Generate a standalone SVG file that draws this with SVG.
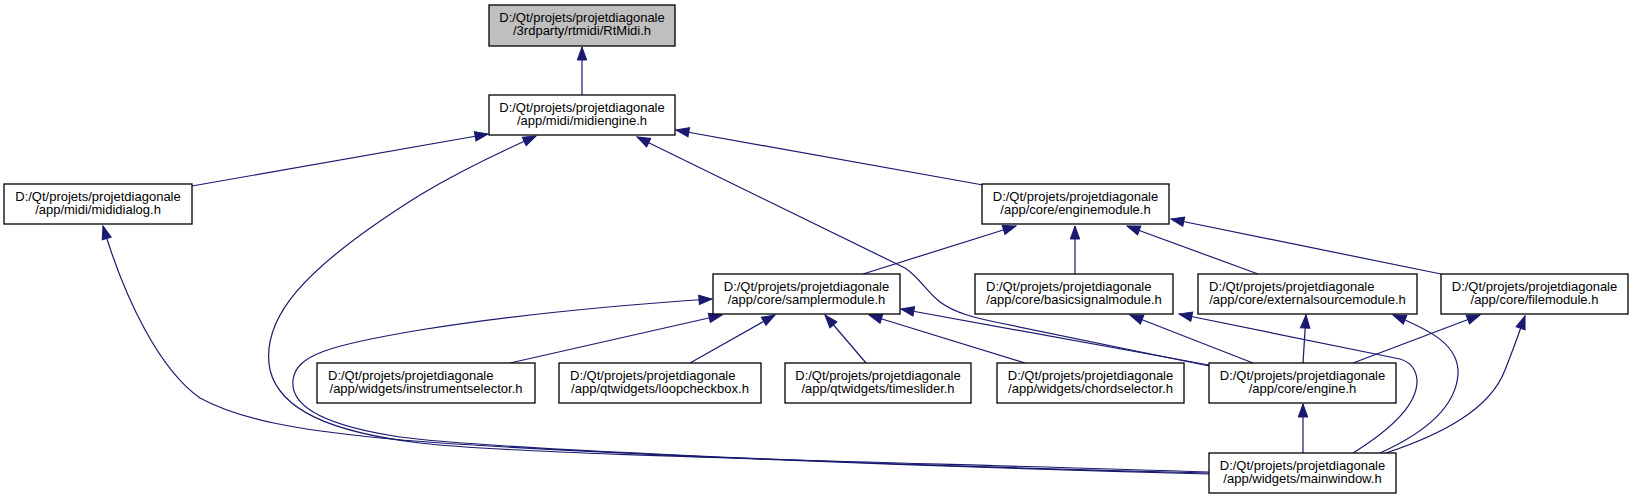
<svg xmlns="http://www.w3.org/2000/svg" width="1633" height="499" viewBox="0 0 1633 499">
<style>
.box{fill:#ffffff;stroke:#000000;stroke-width:1.3}
.root{fill:#bfbfbf}
text{font-family:"Liberation Sans",Arial,Helvetica,sans-serif;font-size:13px;fill:#000000}
.c{text-anchor:middle}
.l{text-anchor:start}
.e{fill:none;stroke:#191970;stroke-width:1.2;marker-end:url(#arr)}
</style>
<defs>
<marker id="arr" markerWidth="14" markerHeight="10" refX="13" refY="4.7" orient="auto" markerUnits="userSpaceOnUse" overflow="visible">
<path d="M0,0 L13,4.7 L0,9.4 z" fill="#191970" stroke="#191970" stroke-width="1"/>
</marker>
</defs>
<rect width="1633" height="499" fill="#ffffff"/>
<g id="connectors">
<path class="e" d="M582,95 L582,47"/>
<path class="e" d="M192,186 L488,134"/>
<path class="e" d="M1209,472 C900,462 520,455 420,443 C330,432 280,410 270,370 C260,320 300,270 420,195 C470,165 510,148 536,136"/>
<path class="e" d="M1209,474 C900,466 500,450 380,438 C300,430 240,420 200,398 C160,370 125,300 103,226"/>
<path class="e" d="M1209,473 C900,466 500,450 400,437 C320,425 290,405 293,380 C296,355 330,345 420,330 C520,314 620,305 712,299"/>
<path class="e" d="M1209,366 L1000,323 C975,318 955,313 940,302 C925,290 920,278 905,268 L637,137"/>
<path class="e" d="M983,185 L676,130"/>
<path class="e" d="M863,274 L1016,226"/>
<path class="e" d="M1075,274 L1075,226"/>
<path class="e" d="M1258,274 L1127,226"/>
<path class="e" d="M1441,274 L1171,219"/>
<path class="e" d="M510,363 L722,315"/>
<path class="e" d="M690,363 L775,315"/>
<path class="e" d="M866,363 L825,315"/>
<path class="e" d="M1025,363 L869,315"/>
<path class="e" d="M1209,365 L901,309"/>
<path class="e" d="M1253,363 L1130,315"/>
<path class="e" d="M1303,363 L1306,315"/>
<path class="e" d="M1353,363 L1480,315"/>
<path class="e" d="M1303,453 L1303,404"/>
<path class="e" d="M1353,453 C1390,430 1418,405 1417,380 C1416,368 1410,362 1400,359 L1179,314"/>
<path class="e" d="M1380,453 C1420,435 1455,410 1458,375 C1460,345 1430,330 1393,315"/>
<path class="e" d="M1386,453 C1440,435 1490,410 1505,370 C1515,345 1520,330 1525,316"/>
</g>
<g id="n_rtmidi"><rect class="box root" x="489" y="5" width="186" height="41"/><text class="c" x="582" y="22">D:/Qt/projets/projetdiagonale</text><text class="c" x="582" y="35">/3rdparty/rtmidi/RtMidi.h</text></g>
<g id="n_midiengine"><rect class="box" x="489" y="95" width="186" height="40"/><text class="c" x="582" y="112">D:/Qt/projets/projetdiagonale</text><text class="c" x="582" y="125">/app/midi/midiengine.h</text></g>
<g id="n_mididialog"><rect class="box" x="4" y="184" width="188" height="40"/><text class="c" x="98" y="201">D:/Qt/projets/projetdiagonale</text><text class="c" x="98" y="214">/app/midi/mididialog.h</text></g>
<g id="n_enginemodule"><rect class="box" x="982" y="184" width="187" height="40"/><text class="c" x="1075.5" y="201">D:/Qt/projets/projetdiagonale</text><text class="c" x="1075.5" y="214">/app/core/enginemodule.h</text></g>
<g id="n_samplermodule"><rect class="box" x="713" y="274" width="187" height="40"/><text class="c" x="806.5" y="291">D:/Qt/projets/projetdiagonale</text><text class="c" x="806.5" y="304">/app/core/samplermodule.h</text></g>
<g id="n_basicsignalmodule"><rect class="box" x="975" y="274" width="198" height="40"/><text class="l" x="986" y="291">D:/Qt/projets/projetdiagonale</text><text class="c" x="1074" y="304">/app/core/basicsignalmodule.h</text></g>
<g id="n_externalsourcemodule"><rect class="box" x="1198" y="274" width="219" height="40"/><text class="l" x="1209" y="291">D:/Qt/projets/projetdiagonale</text><text class="c" x="1307.5" y="304">/app/core/externalsourcemodule.h</text></g>
<g id="n_filemodule"><rect class="box" x="1441" y="274" width="187" height="40"/><text class="c" x="1534.5" y="291">D:/Qt/projets/projetdiagonale</text><text class="c" x="1534.5" y="304">/app/core/filemodule.h</text></g>
<g id="n_instrumentselector"><rect class="box" x="317" y="363" width="218" height="40"/><text class="l" x="328" y="380">D:/Qt/projets/projetdiagonale</text><text class="c" x="426" y="393">/app/widgets/instrumentselector.h</text></g>
<g id="n_loopcheckbox"><rect class="box" x="559" y="363" width="202" height="40"/><text class="l" x="570" y="380">D:/Qt/projets/projetdiagonale</text><text class="c" x="660" y="393">/app/qtwidgets/loopcheckbox.h</text></g>
<g id="n_timeslider"><rect class="box" x="785" y="363" width="186" height="40"/><text class="c" x="878" y="380">D:/Qt/projets/projetdiagonale</text><text class="c" x="878" y="393">/app/qtwidgets/timeslider.h</text></g>
<g id="n_chordselector"><rect class="box" x="997" y="363" width="187" height="40"/><text class="c" x="1090.5" y="380">D:/Qt/projets/projetdiagonale</text><text class="c" x="1090.5" y="393">/app/widgets/chordselector.h</text></g>
<g id="n_engine"><rect class="box" x="1209" y="363" width="187" height="40"/><text class="c" x="1302.5" y="380">D:/Qt/projets/projetdiagonale</text><text class="c" x="1302.5" y="393">/app/core/engine.h</text></g>
<g id="n_mainwindow"><rect class="box" x="1209" y="453" width="187" height="40"/><text class="c" x="1302.5" y="470">D:/Qt/projets/projetdiagonale</text><text class="c" x="1302.5" y="483">/app/widgets/mainwindow.h</text></g>
</svg>
